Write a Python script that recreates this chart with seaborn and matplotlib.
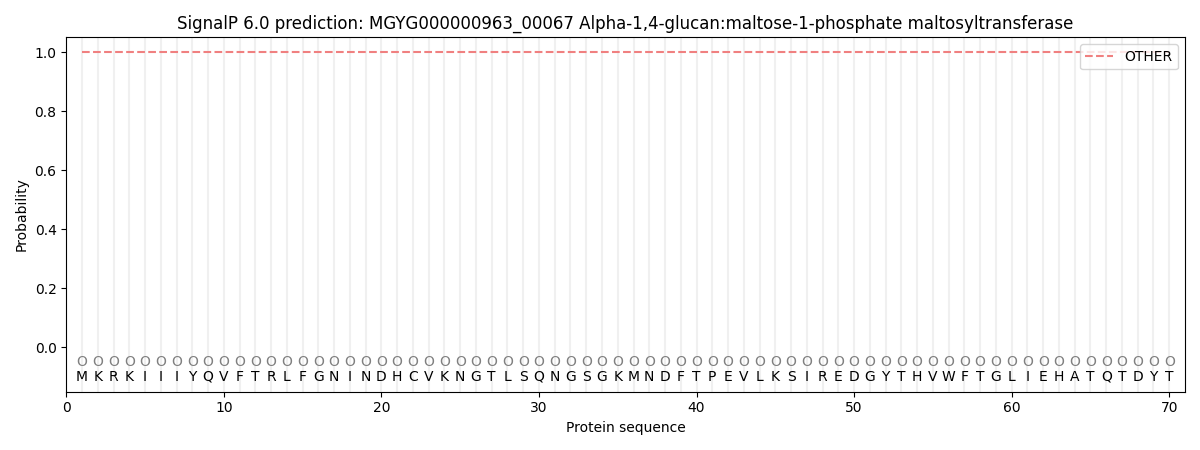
import matplotlib
matplotlib.use("Agg")
import matplotlib.pyplot as plt
import seaborn as sns
import pandas as pd
import numpy as np

sequence = list("MKRKIIIYQVFTRLFGNINDHCVKNGTLSQNGSGKMNDFTPEVLKSIREDGYTHVWFTGLIEHATQTDYT")
positions = list(range(1, len(sequence) + 1))
other_prob = [1.0] * len(sequence)
pred_labels = ["O"] * len(sequence)
title = "SignalP 6.0 prediction: MGYG000000963_00067 Alpha-1,4-glucan:maltose-1-phosphate maltosyltransferase"

df = pd.DataFrame({"pos": positions, "OTHER": other_prob})

fig, ax = plt.subplots(figsize=(12, 4.5), dpi=100)

for p in positions:
    ax.axvline(p, color="#f0f0f0", linewidth=1.5, zorder=0)

sns.lineplot(data=df, x="pos", y="OTHER", ax=ax, color="#f08080", linestyle="--",
             label="OTHER", linewidth=1.5)

for p, aa, lab in zip(positions, sequence, pred_labels):
    ax.text(p, -0.05, lab, ha="center", va="center", color="gray", fontsize=10)
    ax.text(p, -0.1, aa, ha="center", va="center", color="black", fontsize=10)

ax.set_xlim(0, 71)
ax.set_ylim(-0.15, 1.05)
ax.set_xlabel("Protein sequence")
ax.set_ylabel("Probability")
ax.set_title(title)
ax.legend(loc="upper right")
fig.tight_layout()
fig.savefig("out.png", dpi=100)
